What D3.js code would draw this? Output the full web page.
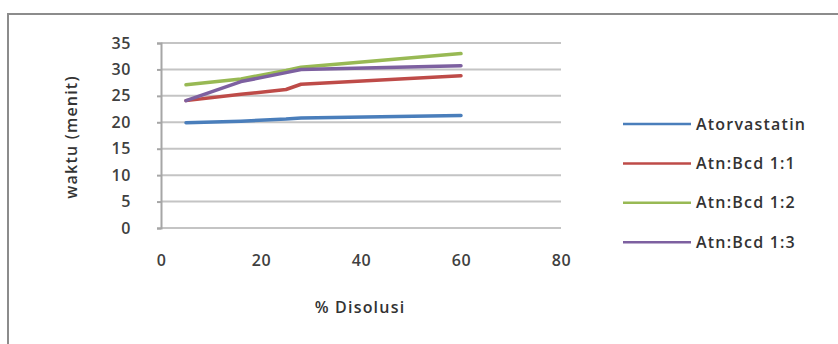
<!DOCTYPE html>
<html>
<head>
<meta charset="utf-8">
<script src="https://cdn.jsdelivr.net/npm/d3@7"></script>
<style>
  body { margin: 0; background: #fff; }
  svg { display: block; }
  .tick text { font-family: "Open Sans", sans-serif; font-size: 16px; font-weight: 600; fill: #404040; letter-spacing: 0.6px; }
  .lbl { font-family: "Open Sans", sans-serif; font-size: 16px; font-weight: 600; fill: #333; letter-spacing: 1.2px; }
</style>
</head>
<body>
<div id="chart"></div>
<script>
// data
var disolusi = [5, 16, 25, 28, 60];
var seriesNames = ["Atorvastatin", "Atn:Bcd 1:1", "Atn:Bcd 1:2", "Atn:Bcd 1:3"];
var atorvastatin = [19.9, 20.2, 20.6, 20.8, 21.3];
var atnBcd11 = [24.1, 25.3, 26.2, 27.2, 28.8];
var atnBcd12 = [27.1, 28.2, 29.8, 30.4, 33.0];
var atnBcd13 = [24.1, 27.7, 29.4, 30.0, 30.7];
var seriesColors = ["#4a7ebb", "#be4b48", "#98b954", "#7d60a0"];
var xTicks = [0, 20, 40, 60, 80];
var yTicks = [0, 5, 10, 15, 20, 25, 30, 35];

var svgWidth = 838;
var svgHeight = 344;
var margin = { top: 43, left: 161, right: 277, bottom: 116 };
var chartWidth = svgWidth - margin.left - margin.right;
var chartHeight = svgHeight - margin.top - margin.bottom;

var svg = d3.select("#chart")
    .append("svg")
    .attr("width", svgWidth)
    .attr("height", svgHeight);

// outer frame (only top and left visible)
svg.append("path")
    .attr("d", "M8,344 V14 H838")
    .attr("fill", "none")
    .attr("stroke", "#8c8c8c")
    .attr("stroke-width", 2);

var chartGroup = svg.append("g")
    .attr("transform", `translate(${margin.left}, ${margin.top})`);

var xScale = d3.scaleLinear().domain([0, 80]).range([0, chartWidth]);
var yScale = d3.scaleLinear().domain([0, 35]).range([chartHeight, 0]);

// gridlines
chartGroup.selectAll(".grid")
    .data(yTicks)
    .enter()
    .append("line")
    .attr("x1", 0)
    .attr("x2", chartWidth)
    .attr("y1", d => yScale(d))
    .attr("y2", d => yScale(d))
    .attr("stroke", "#c4c4c4")
    .attr("stroke-width", 2);

// axes
var yAxis = d3.axisLeft(yScale).tickValues(yTicks).tickSize(4).tickPadding(26);
var gy = chartGroup.append("g").call(yAxis);
gy.select(".domain").attr("stroke", "#a6a6a6").attr("stroke-width", 2);
gy.selectAll(".tick line").attr("stroke", "#a6a6a6").attr("stroke-width", 2);

var xAxis = d3.axisBottom(xScale).tickValues(xTicks).tickSize(0).tickPadding(27);
var gx = chartGroup.append("g")
    .attr("transform", `translate(0, ${chartHeight})`)
    .call(xAxis);
gx.select(".domain").remove();

// lines
var allSeries = [atorvastatin, atnBcd11, atnBcd12, atnBcd13];
var line = d3.line()
    .x((d, i) => xScale(disolusi[i]))
    .y(d => yScale(d));

chartGroup.selectAll(".series")
    .data(allSeries)
    .enter()
    .append("path")
    .attr("d", d => line(d))
    .attr("fill", "none")
    .attr("stroke", (d, i) => seriesColors[i])
    .attr("stroke-width", 3.5)
    .attr("stroke-linejoin", "round")
    .attr("stroke-linecap", "round");

// legend
var legend = svg.append("g").attr("transform", "translate(623, 124)");
var items = legend.selectAll("g")
    .data(seriesNames)
    .enter()
    .append("g")
    .attr("transform", (d, i) => `translate(0, ${i * 39.4})`);
items.append("line")
    .attr("x1", 0).attr("x2", 68)
    .attr("stroke", (d, i) => seriesColors[i])
    .attr("stroke-width", 2.5);
items.append("text")
    .attr("class", "lbl")
    .attr("x", 73)
    .attr("dy", "0.35em")
    .text(d => d);

// axis titles
svg.append("text")
    .attr("class", "lbl")
    .attr("transform", "translate(77, 137) rotate(-90)")
    .attr("text-anchor", "middle")
    .text("waktu (menit)");
svg.append("text")
    .attr("class", "lbl")
    .attr("x", 360)
    .attr("y", 313)
    .attr("text-anchor", "middle")
    .text("% Disolusi");
</script>
</body>
</html>
